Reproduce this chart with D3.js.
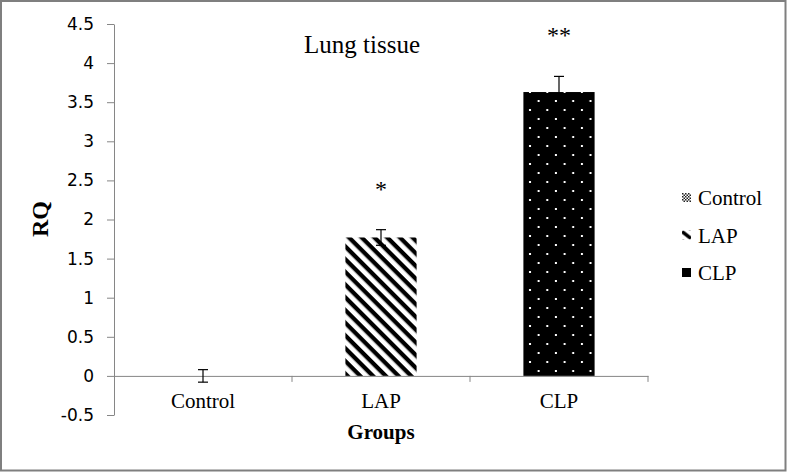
<!DOCTYPE html>
<html>
<head>
<meta charset="utf-8">
<script src="https://cdn.jsdelivr.net/npm/d3@7"></script>
<style>
  html, body { margin: 0; padding: 0; background: #fff; }
  svg { display: block; }
</style>
</head>
<body>
<svg id="chart" width="787" height="472"></svg>
<script>
// ---- data ----
const categories = ["Control", "LAP", "CLP"];
const values = [0, 1.77, 3.63];
const errors = [0.08, 0.1, 0.2];
const significance = ["", "*", "**"];
const yTicks = [-0.5, 0, 0.5, 1, 1.5, 2, 2.5, 3, 3.5, 4, 4.5];
const patterns = ["pat-control", "pat-lap", "pat-clp"];
const title = "Lung tissue";
const xTitle = "Groups";
const yTitle = "RQ";

// ---- layout ----
const W = 787, H = 472;
const plot = { left: 114, right: 648, top: 24, bottom: 415 };
const serif = "'Liberation Serif', 'Times New Roman', serif";
const sans = "'DejaVu Sans', 'Open Sans', sans-serif";
const axisColor = "#868686";

const svg = d3.select("#chart");

// outer frame
svg.append("rect").attr("x", 1).attr("y", 1).attr("width", W - 2.5).attr("height", H - 2.5)
  .attr("fill", "#fff").attr("stroke", "#7f7f7f").attr("stroke-width", 2);

// ---- patterns ----
const defs = svg.append("defs");
// Control: fine checker
const pc = defs.append("pattern").attr("id", "pat-control").attr("patternUnits", "userSpaceOnUse")
  .attr("width", 3).attr("height", 3);
pc.append("rect").attr("width", 3).attr("height", 3).attr("fill", "#fff");
pc.append("rect").attr("width", 1.5).attr("height", 1.5).attr("fill", "#222");
pc.append("rect").attr("x", 1.5).attr("y", 1.5).attr("width", 1.5).attr("height", 1.5).attr("fill", "#222");
// LAP: wide downward diagonal stripes
const pl = defs.append("pattern").attr("id", "pat-lap").attr("patternUnits", "userSpaceOnUse")
  .attr("width", 9).attr("height", 9).attr("patternTransform", "rotate(45)");
pl.append("rect").attr("width", 9).attr("height", 9).attr("fill", "#fff");
pl.append("rect").attr("width", 9).attr("height", 4.3).attr("fill", "#000");
// LAP legend symbol: a single thick diagonal stroke
const plg = defs.append("pattern").attr("id", "pat-lap-legend").attr("patternUnits", "objectBoundingBox")
  .attr("width", 1).attr("height", 1);
plg.append("rect").attr("width", 9).attr("height", 9).attr("fill", "#fff");
plg.append("line").attr("x1", 0).attr("y1", 1).attr("x2", 9).attr("y2", 8)
  .attr("stroke", "#000").attr("stroke-width", 3.5);
// CLP: black with staggered white dots
const pd = defs.append("pattern").attr("id", "pat-clp").attr("patternUnits", "userSpaceOnUse")
  .attr("x", 530).attr("y", 101).attr("width", 17.3).attr("height", 18);
pd.append("rect").attr("width", 17.3).attr("height", 18).attr("fill", "#000");
pd.append("rect").attr("x", 7.6).attr("y", -1).attr("width", 2).attr("height", 2).attr("fill", "#fff");
pd.append("rect").attr("x", -1).attr("y", 8).attr("width", 2).attr("height", 2).attr("fill", "#fff");
pd.append("rect").attr("x", 16.3).attr("y", 8).attr("width", 2).attr("height", 2).attr("fill", "#fff");
pd.append("rect").attr("x", 7.6).attr("y", 17).attr("width", 2).attr("height", 2).attr("fill", "#fff");
const legendPatterns = ["pat-control", "pat-lap-legend", "pat-clp"];

// ---- scales ----
const x = d3.scaleBand().domain(categories).range([plot.left, plot.right]).padding(0);
const y = d3.scaleLinear().domain([-0.5, 4.5]).range([plot.bottom, plot.top]);
const barW = x.bandwidth() * 0.4;

// ---- y axis ----
const yAxis = svg.append("g").attr("transform", `translate(${plot.left},0)`)
  .call(d3.axisLeft(y).tickValues(yTicks).tickFormat(d => String(d))
    .tickSize(7).tickSizeOuter(0).tickPadding(13));
yAxis.select(".domain").attr("stroke", axisColor);
yAxis.selectAll(".tick line").attr("stroke", axisColor);
yAxis.selectAll("text").attr("font-family", sans).attr("font-size", 17).attr("fill", "#000");

// ---- bars ----
svg.append("g").selectAll("rect").data(categories).join("rect")
  .attr("x", d => x(d) + (x.bandwidth() - barW) / 2)
  .attr("y", (d, i) => y(Math.max(0, values[i])))
  .attr("width", barW)
  .attr("height", (d, i) => Math.abs(y(values[i]) - y(0)))
  .attr("fill", (d, i) => `url(#${patterns[i]})`);

// ---- x axis (at y = 0) ----
const xAxis = svg.append("g").attr("transform", `translate(0,${y(0)})`)
  .call(d3.axisBottom(x).tickSize(0).tickSizeOuter(0));
xAxis.select(".domain").attr("stroke", axisColor);
xAxis.selectAll("text").attr("font-family", serif).attr("font-size", 21).attr("fill", "#000")
  .attr("y", 32).attr("dy", 0);
// category boundary ticks
svg.append("g").selectAll("line").data(categories).join("line")
  .attr("x1", d => x(d) + x.bandwidth()).attr("x2", d => x(d) + x.bandwidth())
  .attr("y1", y(0)).attr("y2", y(0) + 6)
  .attr("stroke", axisColor);

// ---- error bars ----
const eb = svg.append("g").attr("stroke", "#000").attr("stroke-width", 1.2);
categories.forEach((c, i) => {
  const cx = x(c) + x.bandwidth() / 2;
  const y1 = y(values[i] + errors[i]), y2 = y(values[i] - errors[i]);
  eb.append("line").attr("x1", cx).attr("x2", cx).attr("y1", y1).attr("y2", y2);
  eb.append("line").attr("x1", cx - 5).attr("x2", cx + 5).attr("y1", y1).attr("y2", y1);
  eb.append("line").attr("x1", cx - 5).attr("x2", cx + 5).attr("y1", y2).attr("y2", y2);
});

// ---- significance marks ----
svg.append("g").selectAll("text").data(categories).join("text")
  .attr("x", d => x(d) + x.bandwidth() / 2)
  .attr("y", (d, i) => y(values[i] + errors[i]) - 33)
  .attr("text-anchor", "middle")
  .attr("font-family", serif).attr("font-size", 24).attr("fill", "#000")
  .text((d, i) => significance[i]);

// ---- titles ----
svg.append("text").attr("x", 362).attr("y", 53).attr("text-anchor", "middle")
  .attr("font-family", serif).attr("font-size", 25).attr("fill", "#000").text(title);
svg.append("text").attr("x", (plot.left + plot.right) / 2).attr("y", 439).attr("text-anchor", "middle")
  .attr("font-family", serif).attr("font-size", 21).attr("font-weight", "bold").attr("fill", "#000").text(xTitle);
svg.append("text").attr("transform", "translate(48,219) rotate(-90)").attr("text-anchor", "middle")
  .attr("font-family", serif).attr("font-size", 24).attr("font-weight", "bold").attr("fill", "#000").text(yTitle);

// ---- legend ----
const lg = svg.append("g").attr("transform", "translate(682,193)");
const items = lg.selectAll("g").data(categories).join("g")
  .attr("transform", (d, i) => `translate(0,${i * 37.5})`);
items.append("rect").attr("width", 9).attr("height", 9)
  .attr("fill", (d, i) => `url(#${legendPatterns[i]})`);
items.append("text").attr("x", 16).attr("y", 12)
  .attr("font-family", serif).attr("font-size", 21).attr("fill", "#000").text(d => d);
</script>
</body>
</html>
